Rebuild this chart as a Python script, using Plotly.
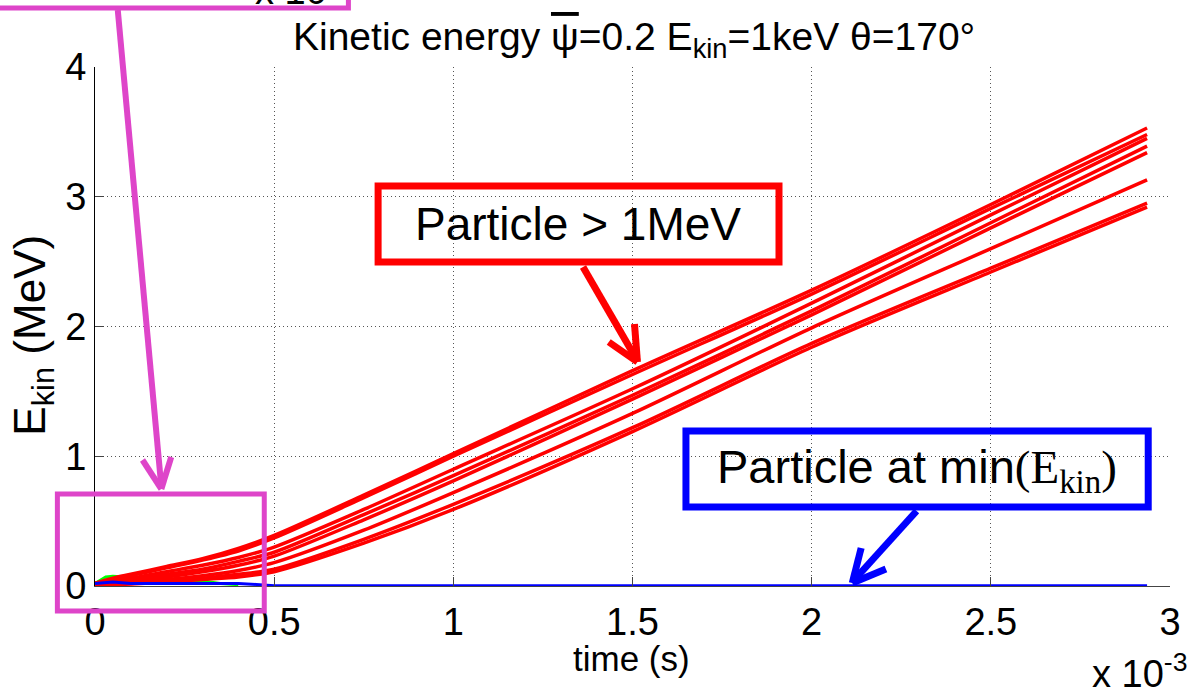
import plotly.graph_objects as go

# ---------------- data (time in units of 1e-3 s, energy in MeV) ----------------
t_red = [0, 0.05, 0.1, 0.2, 0.3, 0.4, 0.5, 0.75, 1.0, 1.5, 2.0, 2.5, 2.936]
red_1 = [0.02, 0.06, 0.09, 0.15, 0.21, 0.29, 0.39, 0.70, 1.02, 1.66, 2.28, 2.94, 3.53]
red_2 = [0.02, 0.05, 0.08, 0.14, 0.20, 0.27, 0.37, 0.68, 1.00, 1.63, 2.25, 2.91, 3.48]
red_3 = [0.01, 0.04, 0.06, 0.11, 0.16, 0.22, 0.30, 0.59, 0.90, 1.52, 2.18, 2.86, 3.45]
red_4 = [0.01, 0.03, 0.05, 0.09, 0.13, 0.19, 0.26, 0.55, 0.85, 1.47, 2.12, 2.80, 3.39]
red_5 = [0.01, 0.03, 0.04, 0.07, 0.11, 0.16, 0.23, 0.51, 0.81, 1.44, 2.09, 2.76, 3.34]
red_6 = [0.01, 0.02, 0.03, 0.05, 0.08, 0.12, 0.18, 0.43, 0.72, 1.33, 1.99, 2.60, 3.13]
red_7 = [0.01, 0.02, 0.02, 0.04, 0.06, 0.09, 0.13, 0.36, 0.63, 1.22, 1.87, 2.45, 2.95]
red_8 = [0.005, 0.01, 0.015, 0.03, 0.05, 0.07, 0.11, 0.33, 0.59, 1.19, 1.84, 2.42, 2.92]
red_series = [red_1, red_2, red_3, red_4, red_5, red_6, red_7, red_8]

t_green = [0, 0.03, 0.05, 0.08, 0.1, 0.2, 0.3, 0.35, 0.4]
green_vals = [0.02, 0.07, 0.075, 0.07, 0.05, 0.045, 0.038, 0.02, 0.01]

t_blue = [0, 0.05, 0.1, 0.2, 0.3, 0.4, 0.45, 0.5, 1.0, 1.5, 2.0, 2.5, 2.936]
blue_vals = [0.02, 0.03, 0.02, 0.02, 0.025, 0.02, 0.012, 0.002, 0.002, 0.002, 0.002, 0.002, 0.002]

x_ticks = [0, 0.5, 1, 1.5, 2, 2.5, 3]
x_tick_labels = ["0", "0.5", "1", "1.5", "2", "2.5", "3"]
y_ticks = [0, 1, 2, 3, 4]
y_tick_labels = ["0", "1", "2", "3", "4"]

title_text = ("Kinetic energy <span style=\"text-decoration:overline\">\u03c8</span>"
              "=0.2 E<sub>kin</sub>=1keV \u03b8=170\u00b0")
x_title = "time (s)"
y_title = "E<sub>kin</sub> (MeV)"
red_label = "Particle &gt; 1MeV"
blue_label = ("Particle at min<span style=\"font-family:'Liberation Serif'\">"
              "(E<sub>kin</sub>)</span>")

# ---------------- layout geometry (pixels) ----------------
W, H = 1192, 698
L, R, T, B = 95, 1181, 67, 586


def px(x):
    return (x - L) / (R - L)


def py(y):
    return (B - y) / (B - T)


RED = "#FF0000"
BLUE = "#0000FF"
GREEN = "#00FF00"
PINK = "#DE45C9"
FONT = "Liberation Sans, Arial, sans-serif"

fig = go.Figure()

fig.add_trace(go.Scatter(x=t_green, y=green_vals, mode="lines",
                         line=dict(color=GREEN, width=3), showlegend=False))
for s in red_series:
    fig.add_trace(go.Scatter(x=t_red, y=s, mode="lines",
                             line=dict(color=RED, width=3.5, shape="spline", smoothing=0.8),
                             showlegend=False))
fig.add_trace(go.Scatter(x=t_blue, y=blue_vals, mode="lines",
                         line=dict(color=BLUE, width=3), showlegend=False))

shapes = []


def rect(x0, y0, x1, y1, color, w):
    shapes.append(dict(type="rect", xref="paper", yref="paper",
                       x0=px(x0), x1=px(x1), y0=py(y1), y1=py(y0),
                       line=dict(color=color, width=w), fillcolor="rgba(0,0,0,0)",
                       layer="above"))


def seg(x0, y0, x1, y1, color, w):
    shapes.append(dict(type="line", xref="paper", yref="paper",
                       x0=px(x0), y0=py(y0), x1=px(x1), y1=py(y1),
                       line=dict(color=color, width=w), layer="above"))


# red callout
rect(381, 186, 786, 262, RED, 7)
seg(588, 267, 643, 361, RED, 7)
seg(643, 362, 614, 342, RED, 7)
seg(643, 362, 640, 324, RED, 7)

# blue callout
rect(692, 431, 1159, 507, BLUE, 7)
seg(925, 511, 861, 581, BLUE, 7)
seg(860, 583, 869, 548, BLUE, 7)
seg(860, 583, 894, 569, BLUE, 7)

# pink zoom boxes
rect(57, 494, 266, 611, PINK, 5)
rect(-30, -80, 351, 8, PINK, 5)
seg(118, 10, 162, 487, PINK, 6)
seg(162, 489, 143, 460, PINK, 6)
seg(162, 489, 172, 457, PINK, 6)

annotations = [
    dict(text=title_text, x=px(640), y=py(40), xref="paper", yref="paper",
         showarrow=False, xanchor="center", yanchor="middle",
         font=dict(family=FONT, size=39, color="black")),
    dict(text=x_title, x=px(637), y=py(658), xref="paper", yref="paper",
         showarrow=False, xanchor="center", yanchor="middle",
         font=dict(family=FONT, size=35, color="black")),
    dict(text=y_title, x=px(32), y=py(335), xref="paper", yref="paper",
         showarrow=False, xanchor="center", yanchor="middle", textangle=-90,
         font=dict(family=FONT, size=44, color="black")),
    dict(text="x 10<sup>-3</sup>", x=px(1200), y=py(697), xref="paper", yref="paper",
         showarrow=False, xanchor="right", yanchor="bottom",
         font=dict(family=FONT, size=38, color="black")),
    dict(text="x 10", x=px(293), y=py(14), xref="paper", yref="paper",
         showarrow=False, xanchor="center", yanchor="bottom",
         font=dict(family=FONT, size=38, color="black")),
    dict(text=red_label, x=px(583), y=py(224), xref="paper", yref="paper",
         showarrow=False, xanchor="center", yanchor="middle",
         font=dict(family=FONT, size=46, color="black")),
    dict(text=blue_label, x=px(925), y=py(470), xref="paper", yref="paper",
         showarrow=False, xanchor="center", yanchor="middle",
         font=dict(family=FONT, size=47, color="black")),
]

fig.update_layout(
    width=W, height=H,
    margin=dict(l=L, r=W - R, t=T, b=H - B, pad=0),
    paper_bgcolor="white", plot_bgcolor="white",
    showlegend=False,
    shapes=shapes,
    annotations=annotations,
    font=dict(family=FONT, color="black"),
)

fig.update_xaxes(
    range=[0, 3], tickvals=x_ticks, ticktext=x_tick_labels,
    showgrid=True, gridcolor="#555555", griddash="1px,3px", gridwidth=1,
    showline=True, linecolor="#444444", linewidth=1,
    ticks="inside", ticklen=9, tickcolor="#444444",
    zeroline=False, tickfont=dict(size=38, family=FONT, color="black"),
    ticklabelstandoff=2,
)
fig.update_yaxes(
    range=[0, 4], tickvals=y_ticks, ticktext=y_tick_labels,
    showgrid=True, gridcolor="#555555", griddash="1px,3px", gridwidth=1,
    showline=True, linecolor="black", linewidth=1,
    ticks="inside", ticklen=9, tickcolor="#444444",
    zeroline=False, tickfont=dict(size=38, family=FONT, color="black"),
    ticklabelstandoff=0,
)

fig.write_html("out.html")
